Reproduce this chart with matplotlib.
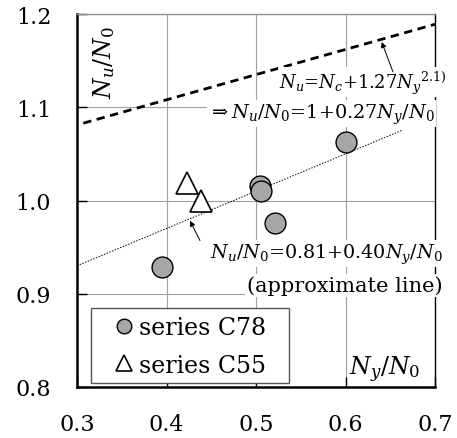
import matplotlib
matplotlib.use("Agg")
import matplotlib.pyplot as plt
from matplotlib.patches import Rectangle
import numpy as np

plt.rcParams['font.family'] = ['DejaVu Serif']
plt.rcParams['mathtext.fontset'] = 'dejavuserif'

# data
c78_x = [0.395, 0.504, 0.506, 0.521, 0.600]
c78_y = [0.929, 1.016, 1.010, 0.976, 1.063]
c55_x = [0.423, 0.439]
c55_y = [1.019, 1.000]

# lines: N_u/N_0 = a + b * N_y/N_0
design_a, design_b = 1.0, 0.27
design_x = [0.307, 0.70]
approx_a, approx_b = 0.81, 0.40
approx_x = [0.30, 0.664]

xticks = [0.3, 0.4, 0.5, 0.6, 0.7]
yticks = [0.8, 0.9, 1.0, 1.1, 1.2]

fig = plt.figure(figsize=(4.57, 4.39), dpi=100)
ax = fig.add_axes([0.1685, 0.1162, 0.7834, 0.8496])

ax.set_xlim(0.3, 0.7)
ax.set_ylim(0.8, 1.2)
ax.set_xticks(xticks)
ax.set_yticks(yticks)
ax.set_xticklabels(["%.1f" % v for v in xticks])
ax.set_yticklabels(["%.1f" % v for v in yticks])
ax.grid(True, color='#a0a0a0', lw=0.8, zorder=0)
ax.set_axisbelow(True)
ax.tick_params(direction='in', length=7, width=1, labelsize=16)
ax.tick_params(axis='x', pad=19)
ax.tick_params(axis='y', pad=18.5)

for s in ['left', 'bottom']:
    ax.spines[s].set_linewidth(1.8)
ax.spines['right'].set_linewidth(1.0)
ax.spines['top'].set_linewidth(1.0)
ax.spines['top'].set_color('#909090')

#Lines
dx = np.array(design_x)
ax.plot(dx, design_a + design_b * dx, ls=(0, (3, 2)), color='black', lw=2, zorder=2)
ax.plot(approx_x, approx_a + approx_b * np.array(approx_x), ls=(0, (1.5, 1.5)),
        color='black', lw=0.7, zorder=2)

#Markers
ax.plot(c78_x, c78_y, 'o', ms=15, mfc='#a6a6a6', mec='black', mew=1.0,
        ls='none', zorder=5, label='series C78')
ax.plot(c55_x, c55_y, '^', ms=16, mfc='white', mec='black', mew=1.2,
        ls='none', zorder=5, label='series C55')

#Annotations
box = dict(facecolor='white', edgecolor='none', pad=1.0)
ax.text(0.526, 1.127, r'$N_u$=$N_c$+1.27$N_y$$^{2.1)}$', fontsize=13,
        ha='left', va='center', bbox=box, zorder=3, clip_on=False)
ax.text(0.4464, 1.093, r'$\Rightarrow N_u$/$N_0$=1+0.27$N_y$/$N_0$', fontsize=13.9,
        ha='left', va='center', bbox=box, zorder=3)
ax.text(0.449, 0.943, r'$N_u$/$N_0$=0.81+0.40$N_y$/$N_0$', fontsize=13.8,
        ha='left', va='center', bbox=box, zorder=3, clip_on=False)
ax.text(0.708, 0.909, '(approximate line)', fontsize=15,
        ha='right', va='center', bbox=box, zorder=3, clip_on=False)

ax.annotate('', xy=(0.6404, 1.170), xytext=(0.653, 1.138),
            arrowprops=dict(arrowstyle='-|>', lw=0.7, color='black', mutation_scale=8,
                            shrinkA=0, shrinkB=0), zorder=4)
ax.annotate('', xy=(0.4263, 0.9783), xytext=(0.4374, 0.957),
            arrowprops=dict(arrowstyle='-|>', lw=0.7, color='black', mutation_scale=8,
                            shrinkA=0, shrinkB=0), zorder=4)

#Axis labels inside the frame
ax.text(0.075, 0.871, r'$N_u$/$N_0$', transform=ax.transAxes, rotation=90,
        fontsize=17, ha='center', va='center')
ax.text(0.858, 0.048, r'$N_y$/$N_0$', transform=ax.transAxes,
        fontsize=17, ha='center', va='center')

#Legend: frameless, with its own box drawn behind
ax.add_patch(Rectangle((0.0391, 0.0107), 0.553, 0.201, transform=ax.transAxes,
                       facecolor='white', edgecolor='#555555', lw=1.0, zorder=6))
leg = ax.legend(loc='center left', bbox_to_anchor=(0.0978, 0.1086), borderaxespad=0,
                frameon=False, fontsize=17, markerscale=0.7, handlelength=1.0,
                handletextpad=0.15, borderpad=0, labelspacing=0.6)
leg.set_zorder(7)

fig.savefig('out.png', dpi=100)
